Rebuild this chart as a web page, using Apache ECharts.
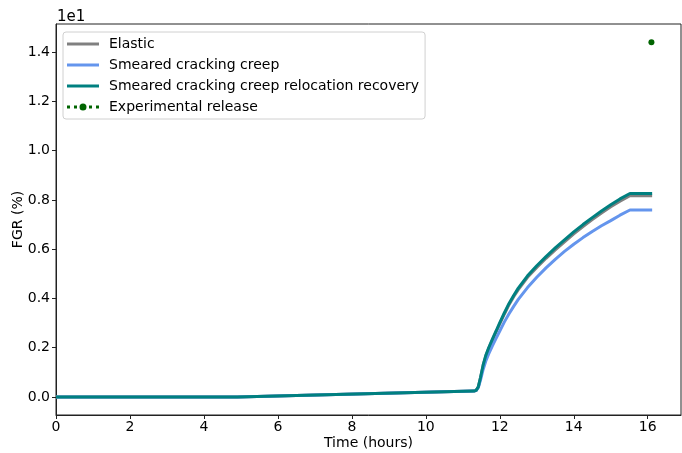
<!DOCTYPE html>
<html>
<head>
<meta charset="utf-8">
<script src="https://cdn.jsdelivr.net/npm/echarts@6/dist/echarts.min.js"></script>
<style>
  html, body { margin: 0; padding: 0; background: #fff; }
  #chart { width: 682px; height: 453px; }
</style>
</head>
<body>
<div id="chart"></div>
<script>
// Time samples (hours) shared by the three simulated curves
const timeHours = [0, 4.9, 11.3, 11.36, 11.42, 11.48, 11.55, 11.62, 11.7, 11.8, 11.9, 12.0,
  12.125, 12.25, 12.375, 12.5, 12.75, 13.0, 13.25, 13.5, 13.75, 14.0, 14.25, 14.5, 14.75,
  15.0, 15.25, 15.52, 16.12];

// Fission gas release (%) for each model
const elastic = [0, 0, 0.24, 0.27, 0.42, 0.79, 1.28, 1.65, 1.97, 2.31, 2.64, 2.97,
  3.37, 3.75, 4.07, 4.36, 4.86, 5.26, 5.63, 5.97, 6.30, 6.62, 6.92, 7.20, 7.47,
  7.72, 7.95, 8.17, 8.17];
const creep = [0, 0, 0.24, 0.26, 0.38, 0.70, 1.12, 1.45, 1.75, 2.08, 2.38, 2.68,
  3.05, 3.38, 3.68, 3.96, 4.44, 4.86, 5.24, 5.59, 5.91, 6.20, 6.47, 6.72, 6.95,
  7.16, 7.38, 7.59, 7.59];
const relocation = [0, 0, 0.24, 0.27, 0.42, 0.80, 1.30, 1.68, 2.00, 2.35, 2.68, 3.02,
  3.42, 3.80, 4.12, 4.42, 4.92, 5.33, 5.70, 6.05, 6.38, 6.70, 7.00, 7.28, 7.55,
  7.80, 8.04, 8.26, 8.26];

// Measured end-of-test release
const expTime = [16.1];
const expFgr  = [14.4];

// Tick positions
const xTicks = [0, 2, 4, 6, 8, 10, 12, 14, 16];
const yTicks = [0, 2, 4, 6, 8, 10, 12, 14];

const pairs = (xs, ys) => xs.map((x, i) => [x, ys[i]]);
const FONT = 'DejaVu Sans';

// Legend glyphs: a plain stroke for the model curves, dots with a marker for the measurement
const LINE_ICON = 'path://M0,0H32V3H0Z';
const DOT_ICON = 'path://M0,2.5h3v3h-3z M7,2.5h3v3h-3z M22,2.5h3v3h-3z M29,2.5h3v3h-3z ' +
                 'M12.5,4a3.5,3.5 0 1,0 7,0a3.5,3.5 0 1,0 -7,0z';

const chart = echarts.init(document.getElementById('chart'), null, { renderer: 'canvas' });

chart.setOption({
  animation: false,
  backgroundColor: '#fff',
  textStyle: { fontFamily: FONT },
  grid: {
    left: 56, right: 1, top: 24, bottom: 38,
    containLabel: false, outerBoundsMode: 'none',
    show: true, borderColor: '#222', borderWidth: 1, backgroundColor: 'transparent'
  },
  legend: {
    orient: 'vertical',
    left: 63, top: 32,
    padding: [5, 6, 5, 4],
    itemWidth: 32, itemHeight: 14, itemGap: 7,
    backgroundColor: '#fff',
    borderColor: '#d0d0d0', borderWidth: 1, borderRadius: 3,
    textStyle: { fontFamily: FONT, fontSize: 14, color: '#000', padding: [0, 0, 0, 5] },
    data: [
      { name: 'Elastic', icon: LINE_ICON },
      { name: 'Smeared cracking creep', icon: LINE_ICON },
      { name: 'Smeared cracking creep relocation recovery', icon: LINE_ICON },
      { name: 'Experimental release', icon: DOT_ICON }
    ]
  },
  xAxis: {
    type: 'value',
    min: 0, max: 16.9,
    name: 'Time (hours)',
    nameLocation: 'middle',
    nameGap: 21,
    nameMoveOverlap: false,
    nameTextStyle: { fontFamily: FONT, fontSize: 14, color: '#000' },
    axisLine: { show: true, onZero: false, lineStyle: { color: '#222', width: 1 } },
    axisTick: { show: true, length: 4, customValues: xTicks, lineStyle: { color: '#222' } },
    axisLabel: { customValues: xTicks, margin: 5, fontFamily: FONT, fontSize: 14, color: '#000',
                 formatter: v => String(v) },
    splitLine: { show: false }
  },
  yAxis: {
    type: 'value',
    min: -0.73, max: 15.14,
    name: 'FGR (%)',
    nameLocation: 'middle',
    nameGap: 31,
    nameMoveOverlap: false,
    nameRotate: 90,
    nameTextStyle: { fontFamily: FONT, fontSize: 14, color: '#000' },
    axisLine: { show: true, onZero: false, lineStyle: { color: '#222', width: 1 } },
    axisTick: { show: true, length: 4, customValues: yTicks, lineStyle: { color: '#222' } },
    axisLabel: { customValues: yTicks, margin: 6, fontFamily: FONT, fontSize: 14, color: '#000',
                 formatter: v => (v / 10).toFixed(1) },
    splitLine: { show: false }
  },
  graphic: [{
    type: 'text', left: 57, top: 10,
    style: { text: '1e1', font: '15px "DejaVu Sans"', fill: '#000' }
  }],
  series: [
    {
      name: 'Elastic', type: 'line', data: pairs(timeHours, elastic),
      symbol: 'none', smooth: false,
      lineStyle: { color: '#808080', width: 3 }, itemStyle: { color: '#808080' }
    },
    {
      name: 'Smeared cracking creep', type: 'line', data: pairs(timeHours, creep),
      symbol: 'none', smooth: false,
      lineStyle: { color: '#6495ED', width: 3 }, itemStyle: { color: '#6495ED' }
    },
    {
      name: 'Smeared cracking creep relocation recovery', type: 'line', data: pairs(timeHours, relocation),
      symbol: 'none', smooth: false,
      lineStyle: { color: '#008080', width: 3 }, itemStyle: { color: '#008080' }
    },
    {
      name: 'Experimental release', type: 'line', data: pairs(expTime, expFgr),
      symbol: 'circle', symbolSize: 6, showSymbol: true,
      lineStyle: { color: '#006400', width: 3, type: [3, 5] }, itemStyle: { color: '#006400' }
    }
  ]
});
</script>
</body>
</html>
